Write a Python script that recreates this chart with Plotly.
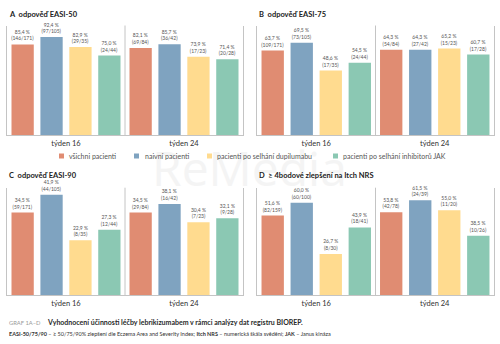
import plotly.graph_objects as go

W, H = 500, 344

weeks = ["týden 16", "týden 24"]
groups = ["všichni pacienti", "naivní pacienti",
          "pacienti po selhání dupilumabu", "pacienti po selhání inhibitorů JAK"]
colors = ["#E08C72", "#7FA3C0", "#FFDB8F", "#8BC8B3"]

titles = ["A  odpověď EASI-50", "B  odpověď EASI-75",
          "C  odpověď EASI-90", "D  ≥ 4bodové zlepšení na Itch NRS"]

# values per panel: [group][week]
easi50_pct = [[85.4, 82.1], [92.4, 85.7], [82.9, 73.9], [75.0, 71.4]]
easi50_n = [["146/171", "69/84"], ["97/105", "36/42"], ["29/35", "17/23"], ["24/44", "20/28"]]
easi75_pct = [[63.7, 64.3], [69.5, 64.3], [48.6, 65.2], [54.5, 60.7]]
easi75_n = [["109/171", "54/84"], ["73/105", "27/42"], ["17/35", "15/23"], ["24/44", "17/28"]]
easi90_pct = [[34.5, 34.5], [41.9, 38.1], [22.9, 30.4], [27.3, 32.1]]
easi90_n = [["59/171", "29/84"], ["44/105", "16/42"], ["8/35", "7/23"], ["12/44", "9/28"]]
nrs_pct = [[51.6, 53.8], [60.0, 61.5], [26.7, 55.0], [43.9, 38.5]]
nrs_n = [["82/159", "42/78"], ["60/100", "24/39"], ["8/30", "11/20"], ["18/41", "10/26"]]

panels_pct = [easi50_pct, easi75_pct, easi90_pct, nrs_pct]
panels_n = [easi50_n, easi75_n, easi90_n, nrs_n]
y_max = [103.3, 82.6, 44.9, 69.7]

FONT = "Lato, 'Noto Sans', sans-serif"
LINE = "#C4C4C4"

def px_x(v):
    return v / W

def px_y(v):
    return 1 - v / H

x_domains = [[px_x(7), px_x(243)], [px_x(257), px_x(494)],
             [px_x(7), px_x(243)], [px_x(257), px_x(494)]]
y_domains = [[px_y(135), px_y(25.5)], [px_y(135), px_y(25.5)],
             [px_y(295), px_y(187.7)], [px_y(295), px_y(187.7)]]

fig = go.Figure()
layout = dict(
    width=W, height=H, margin=dict(l=0, r=0, t=0, b=0),
    paper_bgcolor="white", plot_bgcolor="white",
    barmode="group", bargap=0.02, bargroupgap=0.23,
    showlegend=False, font=dict(family=FONT, color="#333"),
)
shapes = []
annotations = []

# watermark
annotations.append(dict(text="ReMedia", x=px_x(249), y=px_y(167), xref="paper", yref="paper",
                        showarrow=False, font=dict(family="'Open Sans', sans-serif", size=48, color="#F4F4F4")))

for p in range(4):
    sfx = "" if p == 0 else str(p + 1)
    xa, ya = "x" + sfx, "y" + sfx
    for g in range(4):
        vals = panels_pct[p][g]
        ns = panels_n[p][g]
        texts = [f"{v:.1f}".replace(".", ",") + " %<br>(" + n + ")" for v, n in zip(vals, ns)]
        fig.add_trace(go.Bar(
            x=weeks, y=vals, name=groups[g], marker=dict(color=colors[g], line=dict(width=0)),
            text=texts, textposition="outside", cliponaxis=False, constraintext="none",
            outsidetextfont=dict(family=FONT, size=5, color="#555"),
            xaxis=xa, yaxis=ya, hoverinfo="skip"))
    layout["xaxis" + sfx] = dict(
        domain=x_domains[p], anchor=ya, type="category", range=[-0.5, 1.5],
        showline=True, linecolor=LINE, linewidth=1, ticks="", showgrid=False, zeroline=False,
        tickfont=dict(family=FONT, size=7.5, color="#333"), ticklabelstandoff=1, fixedrange=True)
    layout["yaxis" + sfx] = dict(
        domain=y_domains[p], anchor=xa, range=[0, y_max[p]],
        showline=True, mirror=True, linecolor=LINE, linewidth=1, showticklabels=False,
        ticks="", showgrid=False, zeroline=False, fixedrange=True)
    shapes.append(dict(type="line", xref=xa, yref=ya + " domain", x0=0.5, x1=0.5, y0=0, y1=1,
                       line=dict(color=LINE, width=1)))
    tx = x_domains[p][0]
    ty = px_y(15) if p < 2 else px_y(175.5)
    annotations.append(dict(text="<b>" + titles[p] + "</b>", x=tx, y=ty, xref="paper", yref="paper",
                            xanchor="left", yanchor="middle", showarrow=False,
                            font=dict(family=FONT, size=7.5, color="#222")))

# legend
leg_sq = [59, 134, 207, 333]
leg_tx = [67, 143, 215, 341]
for g in range(4):
    shapes.append(dict(type="rect", xref="paper", yref="paper",
                       x0=px_x(leg_sq[g]), x1=px_x(leg_sq[g] + 5),
                       y0=px_y(158.5), y1=px_y(153.5),
                       fillcolor=colors[g], line=dict(width=0)))
    annotations.append(dict(text=groups[g], x=px_x(leg_tx[g]), y=px_y(156), xref="paper", yref="paper",
                            xanchor="left", yanchor="middle", showarrow=False,
                            font=dict(family=FONT, size=7, color="#555")))

# caption
annotations.append(dict(text="GRAF 1A–D", x=px_x(7), y=px_y(322), xref="paper", yref="paper",
                        xanchor="left", yanchor="middle", showarrow=False,
                        font=dict(family=FONT, size=5.8, color="#9A9A9A")))
annotations.append(dict(text="<b>Vyhodnocení účinnosti léčby lebrikizumabem v rámci analýzy dat registru BIOREP.</b>",
                        x=px_x(45), y=px_y(322), xref="paper", yref="paper",
                        xanchor="left", yanchor="middle", showarrow=False,
                        font=dict(family=FONT, size=7, color="#2A2A2A")))
annotations.append(dict(text="<b>EASI-50/75/90</b> – ≥ 50/75/90% zlepšení dle Eczema Area and Severity Index; "
                             "<b>Itch NRS</b> – numerická škála svědění; <b>JAK</b> – Janus kináza",
                        x=px_x(7), y=px_y(334), xref="paper", yref="paper",
                        xanchor="left", yanchor="middle", showarrow=False,
                        font=dict(family=FONT, size=5.5, color="#333")))

layout["shapes"] = shapes
layout["annotations"] = annotations
fig.update_layout(**layout)
fig.write_html("out.html")
